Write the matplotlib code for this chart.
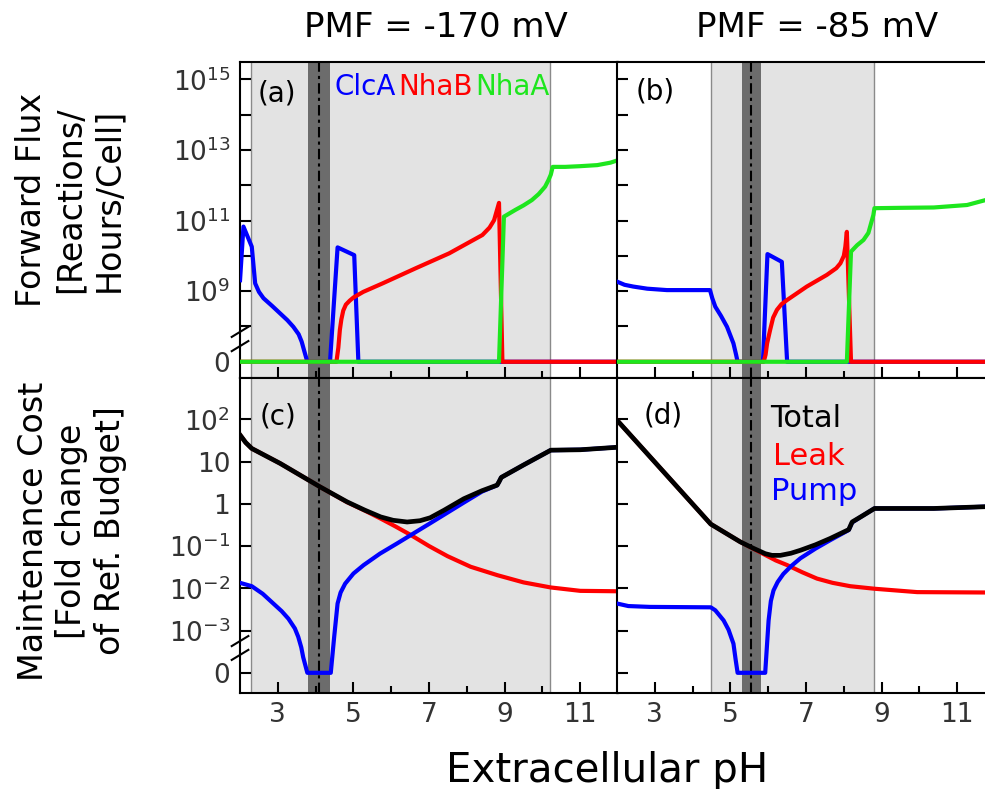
import numpy as np
import matplotlib
matplotlib.use('Agg')
from matplotlib import pyplot as plt
from matplotlib.ticker import FixedLocator, NullLocator

# values are log10 of the quantity, None = exactly zero (drawn on the "0" tick)

# ---- forward flux [log10 reactions/hour/cell], PMF = -170 mV (panel a) ----
phClcA_170 = [2.0, 2.09, 2.31, 2.40, 2.5, 2.62, 2.85, 3.06, 3.25, 3.41, 3.55, 3.63, 3.70, 3.78, 4.38, 4.58, 5.02, 5.13, 12.0]
logClcA_170 = [9.31, 10.83, 10.26, 9.22, 8.98, 8.80, 8.58, 8.37, 8.18, 7.99, 7.78, 7.57, 7.3, None, None, 10.24, 10.02, None, None]
phNhaB_170 = [2.0, 4.55, 4.60, 4.64, 4.68, 4.73, 4.8, 4.9, 5.0, 5.26, 5.77, 6.65, 7.53, 8.41, 8.6, 8.72, 8.85, 8.94, 12.0]
logNhaB_170 = [None, None, 7.4, 7.9, 8.2, 8.45, 8.62, 8.73, 8.82, 8.98, 9.22, 9.65, 10.07, 10.59, 10.8, 11.01, 11.5, None, None]
phNhaA_170 = [2.0, 8.85, 8.98, 9.28, 9.5, 9.72, 9.9, 10.07, 10.16, 10.22, 10.27, 10.6, 11.0, 11.45, 11.8, 12.0]
logNhaA_170 = [None, None, 11.11, 11.30, 11.43, 11.58, 11.75, 11.96, 12.15, 12.3, 12.52, 12.52, 12.54, 12.57, 12.64, 12.71]

# ---- forward flux, PMF = -85 mV (panel b) ----
phClcA_85 = [2.0, 2.2, 2.43, 2.8, 3.32, 4.46, 4.52, 4.60, 4.75, 4.91, 5.08, 5.15, 5.19, 5.86, 5.98, 6.36, 6.50, 12.0]
logClcA_85 = [9.27, 9.18, 9.13, 9.07, 9.03, 9.03, 8.8, 8.56, 8.3, 7.99, 7.52, 7.2, None, None, 10.05, 9.83, None, None]
phNhaB_85 = [2.0, 5.88, 5.93, 5.97, 6.05, 6.13, 6.23, 6.35, 6.50, 7.02, 7.55, 7.8, 7.91, 8.0, 8.04, 8.08, 8.19, 12.0]
logNhaB_85 = [None, None, 7.2, 7.52, 7.90, 8.25, 8.47, 8.63, 8.75, 9.13, 9.46, 9.65, 9.79, 10.0, 10.26, 10.68, None, None]
phNhaA_85 = [2.0, 8.08, 8.19, 8.35, 8.52, 8.65, 8.72, 8.78, 8.81, 9.5, 10.38, 11.26, 11.75, 12.0]
logNhaA_85 = [None, None, 10.12, 10.3, 10.45, 10.65, 10.92, 11.15, 11.35, 11.36, 11.37, 11.44, 11.58, 11.65]

# ---- maintenance cost [log10 fold change], PMF = -170 mV (panel c) ----
phTotal_170 = [2.0, 2.15, 2.31, 3.06, 4.12, 4.83, 5.3, 5.72, 6.05, 6.42, 6.76, 7.03, 7.4, 7.92, 8.4, 8.80, 8.85, 8.91, 9.5, 10.22, 11.0, 12.0]
logTotal_170 = [1.63, 1.45, 1.31, 0.957, 0.40, 0.047, -0.15, -0.31, -0.39, -0.43, -0.40, -0.33, -0.15, 0.12, 0.31, 0.443, 0.52, 0.625, 0.92, 1.27, 1.28, 1.34]
phLeak_170 = [2.0, 2.15, 2.31, 3.06, 4.12, 4.83, 5.3, 5.72, 6.1, 6.52, 7.0, 7.49, 8.1, 8.81, 9.5, 10.22, 11.0, 12.0]
logLeak_170 = [1.63, 1.45, 1.31, 0.957, 0.40, 0.04, -0.16, -0.35, -0.53, -0.74, -1.0, -1.24, -1.49, -1.69, -1.86, -1.98, -2.06, -2.07]
phPump_170 = [2.0, 2.31, 2.6, 2.88, 3.1, 3.28, 3.45, 3.54, 3.62, 3.67, 3.78, 4.40, 4.49, 4.58, 4.66, 4.78, 5.0, 5.27, 5.7,
	6.15, 7.03, 7.92, 8.4, 8.80, 8.85, 8.91, 9.5, 10.22, 11.0, 12.0]
logPump_170 = [-1.87, -1.95, -2.13, -2.36, -2.54, -2.72, -2.95, -3.15, -3.4, -3.63, None, None, -3.15, -2.36, -2.1, -1.89, -1.65, -1.45, -1.18,
	-0.94, -0.46, 0.03, 0.29, 0.44, 0.52, 0.625, 0.92, 1.27, 1.28, 1.34]

# ---- maintenance cost, PMF = -85 mV (panel d) ----
phTotal_85 = [2.0, 4.48, 5.26, 5.6, 5.92, 6.1, 6.32, 6.6, 6.85, 7.25, 7.64, 8.13, 8.22, 8.5, 8.81, 10.38, 12.0]
logTotal_85 = [1.98, -0.48, -0.90, -1.05, -1.18, -1.22, -1.22, -1.17, -1.10, -0.97, -0.82, -0.61, -0.43, -0.28, -0.11, -0.11, -0.06]
phLeak_85 = [2.0, 4.48, 5.26, 5.92, 6.2, 6.50, 6.9, 7.29, 7.7, 8.17, 8.81, 9.94, 12.0]
logLeak_85 = [1.98, -0.48, -0.90, -1.21, -1.34, -1.45, -1.62, -1.77, -1.87, -1.95, -2.01, -2.09, -2.10]
phPump_85 = [2.0, 2.3, 2.87, 4.48, 4.6, 4.82, 4.95, 5.08, 5.14, 5.19, 5.92, 6.01, 6.07, 6.14, 6.25, 6.40, 6.6, 6.85,
	7.25, 7.64, 8.13, 8.22, 8.5, 8.81, 10.38, 12.0]
logPump_85 = [-2.36, -2.42, -2.44, -2.45, -2.52, -2.76, -2.98, -3.31, -3.7, None, None, -2.76, -2.3, -2.05, -1.85, -1.66, -1.48, -1.29,
	-1.06, -0.86, -0.62, -0.44, -0.28, -0.11, -0.11, -0.06]

# shaded pH ranges: (light region start, end, dark band start, end, dashed line)
shade_170 = (2.3, 10.2, 3.79, 4.38, 4.09)
shade_85 = (4.49, 8.8, 5.30, 5.80, 5.54)

fluxTicks = [0, 1e8, 1e9, 1e10, 1e11, 1e12, 1e13, 1e14, 1e15]
fluxLabels = ['0', '', '$10^{9}$', '', '$10^{11}$', '', '$10^{13}$', '', '$10^{15}$']
costTicks = [0, 1e-3, 1e-2, 1e-1, 1, 10, 100]
costLabels = ['0', '$10^{-3}$', '$10^{-2}$', '$10^{-1}$', '1', '10', '$10^{2}$']

BLUE = '#0000ff'
RED = '#ff0000'
GREEN = '#1ee61e'
LW = 3.0

plt.rcParams['font.family'] = 'DejaVu Sans'
plt.rcParams['mathtext.default'] = 'regular'


def Unlog(logs):
	return [0.0 if v is None else 10.0 ** v for v in logs]


def ZeroLogScale(zeroPos):
	# log axis where zero sits at a fixed decade (broken axis look)
	def fwd(y):
		y = np.asarray(y, dtype=float)
		return np.where(y > 0, np.log10(np.where(y > 0, y, 1.0)), zeroPos)
	def inv(v):
		return 10.0 ** np.asarray(v, dtype=float)
	return fwd, inv


def StyleAxis(ax, shade):
	lo, hi, d0, d1, dash = shade
	ax.axvspan(lo, hi, color='#e3e3e3', lw=0, zorder=0)
	for s in (lo, hi):
		ax.axvline(s, color='#8a8a8a', lw=1, zorder=0.5)
	ax.axvspan(d0, d1, color='#6c6c6c', lw=0, zorder=0.6)
	ax.axvline(dash, color='black', lw=1.5, ls=(0, (5, 2, 1.5, 2)), zorder=0.7)
	ax.set_xlim(2, 12)
	ax.xaxis.set_major_locator(FixedLocator([3, 5, 7, 9, 11]))
	ax.xaxis.set_minor_locator(FixedLocator([4, 6, 8, 10]))
	ax.tick_params(which='both', direction='in', top=False, right=False, width=1.5,
		labelsize=19, labelcolor='#333333', pad=7)
	ax.tick_params(which='major', length=8)
	ax.tick_params(which='minor', length=5)
	for sp in ax.spines.values():
		sp.set_linewidth(1.5)


def BreakMarks(ax, ys):
	for y in ys:
		ax.plot([-0.022, 0.022], [y - 0.016, y + 0.016], transform=ax.transAxes,
			color='black', lw=1.5, clip_on=False, zorder=5)


fig = plt.figure(figsize=(9.85, 7.89), dpi=100)
axA = fig.add_axes([0.2437, 0.5209, 0.3838, 0.4005])
axB = fig.add_axes([0.6264, 0.5209, 0.3838, 0.4005])
axC = fig.add_axes([0.2437, 0.1221, 0.3838, 0.3989])
axD = fig.add_axes([0.6264, 0.1221, 0.3838, 0.3989])

for ax, shade in ((axA, shade_170), (axB, shade_85), (axC, shade_170), (axD, shade_85)):
	StyleAxis(ax, shade)

# top row: forward flux
for ax, data in ((axA, (phClcA_170, logClcA_170, phNhaB_170, logNhaB_170, phNhaA_170, logNhaA_170)),
		(axB, (phClcA_85, logClcA_85, phNhaB_85, logNhaB_85, phNhaA_85, logNhaA_85))):
	ax.set_yscale('function', functions=ZeroLogScale(7))
	ax.plot(data[0], Unlog(data[1]), color=BLUE, lw=LW, zorder=3)
	ax.plot(data[2], Unlog(data[3]), color=RED, lw=LW, zorder=3)
	ax.plot(data[4], Unlog(data[5]), color=GREEN, lw=LW, zorder=3)
	ax.set_ylim(10 ** 6.54, 10 ** 15.49)
	ax.yaxis.set_major_locator(FixedLocator(fluxTicks))
	ax.yaxis.set_minor_locator(NullLocator())
	ax.set_yticklabels(fluxLabels)
	ax.tick_params(labelbottom=False)

# bottom row: maintenance cost
for ax, data in ((axC, (phLeak_170, logLeak_170, phPump_170, logPump_170, phTotal_170, logTotal_170)),
		(axD, (phLeak_85, logLeak_85, phPump_85, logPump_85, phTotal_85, logTotal_85))):
	ax.set_yscale('function', functions=ZeroLogScale(-4))
	ax.plot(data[0], Unlog(data[1]), color=RED, lw=LW, zorder=3)
	ax.plot(data[2], Unlog(data[3]), color=BLUE, lw=LW, zorder=3)
	ax.plot(data[4], Unlog(data[5]), color='black', lw=LW + 0.4, zorder=3)
	ax.set_ylim(10 ** -4.47, 10 ** 2.98)
	ax.yaxis.set_major_locator(FixedLocator(costTicks))
	ax.yaxis.set_minor_locator(NullLocator())
	ax.set_yticklabels(costLabels)

axB.tick_params(labelleft=False)
axD.tick_params(labelleft=False)

BreakMarks(axA, [0.146, 0.101])
BreakMarks(axC, [0.164, 0.120])

# panel letters
axA.text(0.097, 0.899, '(a)', transform=axA.transAxes, fontsize=20, ha='center', va='center')
axB.text(0.100, 0.906, '(b)', transform=axB.transAxes, fontsize=20, ha='center', va='center')
axC.text(0.101, 0.877, '(c)', transform=axC.transAxes, fontsize=20, ha='center', va='center')
axD.text(0.122, 0.882, '(d)', transform=axD.transAxes, fontsize=20, ha='center', va='center')

# inline legends
axA.text(0.251, 0.896, 'ClcA', color=BLUE, transform=axA.transAxes, fontsize=20, va='baseline', zorder=6)
axA.text(0.419, 0.896, 'NhaB', color=RED, transform=axA.transAxes, fontsize=20, va='baseline', zorder=6)
axA.text(0.622, 0.896, 'NhaA', color=GREEN, transform=axA.transAxes, fontsize=20, va='baseline', zorder=6)
axD.text(0.405, 0.845, 'Total', color='black', transform=axD.transAxes, fontsize=22, va='baseline', zorder=6)
axD.text(0.412, 0.724, 'Leak', color=RED, transform=axD.transAxes, fontsize=22, va='baseline', zorder=6)
axD.text(0.407, 0.612, 'Pump', color=BLUE, transform=axD.transAxes, fontsize=22, va='baseline', zorder=6)

# titles and axis labels
fig.text(436 / 985, 0.9535, 'PMF = -170 mV', fontsize=24.5, ha='center', va='baseline')
fig.text(817 / 985, 0.9535, 'PMF = -85 mV', fontsize=24.5, ha='center', va='baseline')
fig.text(607 / 985, 0.0092, 'Extracellular pH', fontsize=29, ha='center', va='baseline')
fig.text(70 / 985, 1 - 200 / 789, 'Forward Flux\n[Reactions/\nHours/Cell]', fontsize=24,
	rotation=90, ha='center', va='center', multialignment='center', linespacing=1.2)
fig.text(72 / 985, 1 - 531 / 789, 'Maintenance Cost\n[Fold change\nof Ref. Budget]', fontsize=24,
	rotation=90, ha='center', va='center', multialignment='center', linespacing=1.2)

fig.savefig('out.png', dpi=100)
